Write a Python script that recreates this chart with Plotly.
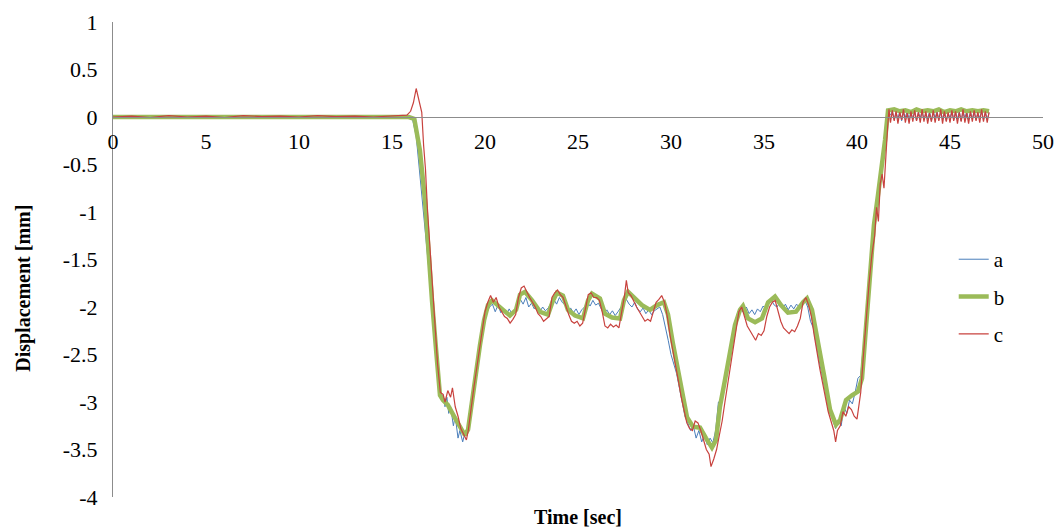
import plotly.graph_objects as go

# ---------------- data ----------------
# shared tail time base (oscillating end segment)
tail_t = [41.8, 41.9, 42.0, 42.1, 42.2, 42.3, 42.4, 42.5, 42.6, 42.7, 42.8, 42.9,
          43.0, 43.1, 43.2, 43.3, 43.4, 43.5, 43.6, 43.7, 43.8, 43.9, 44.0, 44.1,
          44.2, 44.3, 44.4, 44.5, 44.6, 44.7, 44.8, 44.9, 45.0, 45.1, 45.2, 45.3,
          45.4, 45.5, 45.6, 45.7, 45.8, 45.9, 46.0, 46.1, 46.2, 46.3, 46.4, 46.5,
          46.6, 46.7, 46.8, 46.9, 47.0, 47.1]

# series a (blue)
a_t = [0, 2, 4, 6, 8, 10, 12, 14, 15.9, 16.1, 16.3, 16.5, 16.7, 16.9, 17.0, 17.15,
       17.3, 17.45, 17.6, 17.75, 17.85, 17.95, 18.05, 18.15, 18.3, 18.4, 18.55, 18.65,
       18.8, 18.95, 19.05, 19.2, 19.35, 19.5, 19.65, 19.8, 19.95, 20.1, 20.25, 20.4,
       20.55, 20.7, 20.85, 21.0, 21.15, 21.3, 21.45, 21.6, 21.75, 21.9, 22.05, 22.2,
       22.35, 22.5, 22.65, 22.8, 22.95, 23.1, 23.25, 23.4, 23.55, 23.7, 23.85, 24.0,
       24.15, 24.3, 24.45, 24.6, 24.75, 24.9, 25.05, 25.2, 25.35, 25.5, 25.65, 25.8,
       25.95, 26.1, 26.25, 26.4, 26.55, 26.7, 26.85, 27.0, 27.15, 27.3, 27.45, 27.6,
       27.75, 27.9, 28.05, 28.2, 28.35, 28.5, 28.65, 28.8, 28.95, 29.1, 29.25, 29.4,
       29.55, 29.7, 29.85, 30.0, 30.15, 30.3, 30.45, 30.6, 30.75, 30.9, 31.05, 31.2,
       31.35, 31.5, 31.65, 31.8, 31.95, 32.1, 32.25, 32.4, 32.55, 32.7, 32.85, 33.0,
       33.15, 33.3, 33.45, 33.6, 33.75, 33.9, 34.05, 34.2, 34.35, 34.5, 34.65, 34.8,
       34.95, 35.1, 35.25, 35.4, 35.55, 35.7, 35.85, 36.0, 36.15, 36.3, 36.45, 36.6,
       36.75, 36.9, 37.05, 37.2, 37.35, 37.5, 37.65, 37.8, 37.95, 38.1, 38.25, 38.4,
       38.55, 38.7, 38.85, 39.0, 39.15, 39.3, 39.45, 39.6, 39.75, 39.9, 40.05, 40.2,
       40.3, 40.45, 40.6, 40.75, 40.9, 41.05, 41.2, 41.35, 41.5, 41.65]
a_v = [0.0, -0.005, 0.0, -0.005, 0.0, -0.005, 0.0, -0.005, 0.0, -0.02, -0.2, -0.6, -1.05, -1.45, -1.6, -1.95,
       -2.4, -2.75, -2.95, -2.93, -3.05, -2.95, -3.12, -3.05, -3.25, -3.15, -3.38, -3.3,
       -3.42, -3.3, -3.35, -3.05, -2.9, -2.75, -2.55, -2.35, -2.2, -2.05, -2.0, -1.97,
       -2.05, -1.98, -2.06, -2.02, -2.08, -2.02, -2.07, -2.03, -1.98, -1.92, -1.97, -1.9,
       -2.0, -1.96, -2.02, -1.98, -2.05, -2.0, -2.04, -2.01, -1.96, -1.92, -1.97, -1.9,
       -1.95, -1.98, -2.05, -2.01, -2.06, -2.02, -2.08, -2.03, -2.0, -1.95, -1.99, -1.93,
       -1.98, -1.96, -2.02, -2.07, -2.03, -2.08, -2.04, -2.09, -2.05, -2.0, -1.96, -1.92,
       -1.97, -2.0, -1.95, -2.02, -2.05, -2.01, -2.07, -2.03, -2.08, -2.04, -2.02, -2.0,
       -2.08, -2.2, -2.35, -2.5, -2.6, -2.7, -2.85, -3.0, -3.15, -3.22, -3.3, -3.25,
       -3.38, -3.3, -3.42, -3.35, -3.45, -3.38, -3.43, -3.3, -3.0, -2.98, -2.85, -2.65,
       -2.45, -2.3, -2.15, -2.05, -2.02, -2.06, -2.0, -2.07, -2.03, -2.08, -2.02, -2.05,
       -1.99, -2.02, -1.96, -1.93, -1.98, -2.0, -1.95, -2.02, -1.97, -2.03, -1.98, -2.02,
       -1.97, -2.0, -1.95, -1.93, -2.0, -2.15, -2.22, -2.4, -2.55, -2.7, -2.85, -3.0,
       -3.1, -3.2, -3.28, -3.2, -3.25, -3.05, -3.12, -2.98, -3.02, -2.9, -2.75, -2.72,
       -2.5, -2.3, -1.9, -1.55, -1.2, -0.95, -0.7, -0.5, -0.25, 0.05]
a_tail = [0.02, 0.06, -0.03, 0.05, -0.02, 0.06, -0.04, 0.04, 0.0, 0.06, -0.03, 0.05,
          -0.02, 0.06, -0.04, 0.05, -0.01, 0.06, -0.03, 0.04, -0.02, 0.06, -0.04, 0.05,
          -0.01, 0.06, -0.03, 0.05, -0.02, 0.06, -0.04, 0.04, -0.01, 0.06, -0.03, 0.05,
          -0.02, 0.06, -0.04, 0.05, -0.01, 0.06, -0.03, 0.05, -0.02, 0.06, -0.03, 0.04,
          -0.01, 0.06, -0.03, 0.05, -0.02, 0.04]

# series b (green, thick)
b_t = [0, 15.9, 16.2, 16.5, 16.77, 16.94, 17.15, 17.37, 17.58, 17.74, 18.0, 18.39,
       18.66, 18.92, 19.09, 19.3, 19.5, 19.73, 19.95, 20.16, 20.38, 20.65, 20.97, 21.34,
       21.67, 21.88, 22.15, 22.53, 22.96, 23.39, 23.66, 23.87, 24.19, 24.46, 24.84, 25.27,
       25.54, 25.75, 26.18, 26.45, 26.83, 27.26, 27.47, 27.69, 28.06, 28.44, 28.87, 29.25,
       29.62, 29.84, 30.1, 30.48, 30.86, 31.18, 31.56, 31.88, 32.2, 32.42, 32.63, 32.9,
       33.17, 33.44, 33.71, 33.87, 34.14, 34.52, 34.89, 35.22, 35.59, 35.91, 36.29, 36.72,
       37.1, 37.31, 37.58, 37.9, 38.23, 38.55, 38.87, 39.09, 39.41, 39.73, 40.05, 40.27,
       40.48, 40.7, 40.91, 41.13, 41.34, 41.51, 41.67, 42.0, 42.3, 42.6, 42.9, 43.2,
       43.5, 43.8, 44.1, 44.4, 44.7, 45.0, 45.3, 45.6, 45.9, 46.2, 46.5, 46.8, 47.1]
b_v = [0.0, 0.0, -0.02, -0.35, -0.87, -1.4, -1.93, -2.45, -2.93, -2.98, -3.03, -3.17,
       -3.27, -3.35, -3.29, -2.98, -2.72, -2.4, -2.14, -1.98, -1.93, -1.98, -2.03, -2.09,
       -2.03, -1.87, -1.84, -1.93, -2.05, -2.08, -1.93, -1.85, -1.88, -2.03, -2.09, -2.12,
       -1.93, -1.86, -1.91, -2.07, -2.11, -2.12, -1.93, -1.84, -1.91, -1.98, -2.03, -1.98,
       -1.95, -2.08, -2.38, -2.8, -3.16, -3.26, -3.27, -3.38, -3.48, -3.4, -3.05, -2.77,
       -2.5, -2.19, -2.03, -1.99, -2.12, -2.16, -2.12, -1.95, -1.89, -1.98, -2.06, -2.05,
       -1.95, -1.91, -2.03, -2.35, -2.72, -3.08, -3.24, -3.19, -2.98, -2.93, -2.89, -2.75,
       -2.24, -1.61, -1.14, -0.82, -0.51, -0.24, 0.07, 0.08, 0.06, 0.07, 0.05, 0.08,
       0.06, 0.07, 0.06, 0.08, 0.05, 0.07, 0.06, 0.08, 0.06, 0.07, 0.06, 0.07, 0.06]

# series c (red)
c_t = [0, 1, 2, 3, 4, 5, 6, 7, 8, 9, 10, 11, 12, 13, 14, 15, 15.8, 16.0, 16.15, 16.3,
       16.4, 16.5, 16.6, 16.7, 16.8, 16.9, 17.0, 17.1, 17.2, 17.3, 17.45, 17.6, 17.75,
       17.85, 18.0, 18.15, 18.25, 18.4, 18.55, 18.7, 18.85, 19.0, 19.1, 19.25, 19.4,
       19.55, 19.7, 19.85, 20.0, 20.15, 20.3, 20.45, 20.6, 20.75, 20.9, 21.05, 21.2,
       21.35, 21.5, 21.65, 21.8, 21.95, 22.1, 22.25, 22.4, 22.55, 22.7, 22.85, 23.0,
       23.15, 23.3, 23.45, 23.6, 23.75, 23.9, 24.05, 24.2, 24.35, 24.5, 24.65, 24.8,
       24.95, 25.1, 25.25, 25.4, 25.55, 25.7, 25.85, 26.0, 26.15, 26.3, 26.45, 26.6,
       26.75, 26.9, 27.05, 27.2, 27.35, 27.5, 27.6, 27.7, 27.85, 28.0, 28.15, 28.3,
       28.45, 28.6, 28.75, 28.9, 29.05, 29.2, 29.35, 29.5, 29.65, 29.8, 29.95, 30.1,
       30.25, 30.4, 30.55, 30.7, 30.85, 31.0, 31.15, 31.3, 31.45, 31.6, 31.75, 31.9,
       32.05, 32.15, 32.3, 32.45, 32.6, 32.75, 32.9, 33.05, 33.2, 33.35, 33.5, 33.65,
       33.8, 33.95, 34.1, 34.25, 34.4, 34.55, 34.7, 34.85, 35.0, 35.15, 35.3, 35.45,
       35.6, 35.75, 35.9, 36.05, 36.2, 36.35, 36.5, 36.65, 36.8, 36.95, 37.1, 37.25,
       37.4, 37.55, 37.7, 37.85, 38.0, 38.15, 38.3, 38.45, 38.6, 38.75, 38.85, 38.95,
       39.1, 39.25, 39.4, 39.55, 39.7, 39.85, 40.0, 40.1, 40.2, 40.35, 40.5, 40.65,
       40.8, 40.95, 41.05, 41.15, 41.25, 41.35, 41.45, 41.55, 41.65, 41.72]
c_v = [0.0, 0.01, -0.005, 0.015, 0.0, 0.01, -0.005, 0.015, 0.005, 0.01, 0.0, 0.015,
       0.005, 0.01, 0.0, 0.015, 0.02, 0.06, 0.15, 0.3, 0.22, 0.12, 0.05, -0.3, -0.55,
       -0.95, -1.25, -1.55, -1.9, -2.2, -2.6, -2.9, -2.92, -3.0, -2.88, -2.95, -2.85,
       -3.05, -3.15, -3.28, -3.35, -3.4, -3.3, -3.05, -2.85, -2.65, -2.45, -2.25, -2.05,
       -1.95, -1.88, -1.95, -1.9, -2.0, -2.05, -2.1, -2.12, -2.17, -2.13, -2.08, -1.9,
       -1.8, -1.78, -1.85, -1.9, -1.95, -2.0, -2.07, -2.1, -2.15, -2.12, -2.1, -1.9,
       -1.85, -1.82, -1.87, -1.9, -2.0, -2.08, -2.15, -2.17, -2.15, -2.2, -2.17, -2.0,
       -1.87, -1.85, -1.9, -1.9, -1.93, -2.05, -2.2, -2.22, -2.18, -2.21, -2.19, -2.22,
       -2.05, -1.88, -1.72, -1.85, -1.88, -1.95, -2.0, -2.05, -2.1, -2.15, -2.13, -2.15,
       -2.05, -1.95, -1.92, -1.88, -1.95, -2.1, -2.3, -2.45, -2.62, -2.78, -2.95, -3.1,
       -3.22, -3.28, -3.3, -3.2, -3.22, -3.3, -3.4, -3.5, -3.55, -3.68, -3.6, -3.5,
       -3.35, -3.2, -3.0, -2.8, -2.6, -2.4, -2.2, -2.05, -2.0, -2.1, -2.2, -2.25,
       -2.3, -2.35, -2.28, -2.3, -2.25, -2.1, -2.0, -1.95, -1.93, -2.05, -2.15, -2.22,
       -2.25, -2.28, -2.24, -2.26, -2.2, -2.12, -1.95, -1.9, -1.98, -2.1, -2.3, -2.5,
       -2.65, -2.8, -2.95, -3.1, -3.2, -3.3, -3.42, -3.3, -3.25, -3.1, -3.15, -3.05,
       -3.08, -3.15, -3.18, -3.05, -2.9, -2.5, -2.1, -1.75, -1.45, -1.25, -0.95, -1.1,
       -0.7, -0.6, -0.75, -0.35, -0.1, 0.08]
c_tail = [-0.06, 0.07, -0.04, 0.06, -0.07, 0.05, -0.03, 0.08, -0.06, 0.04, -0.07, 0.06,
          -0.05, 0.07, -0.04, 0.05, -0.06, 0.08, -0.05, 0.06, -0.07, 0.04, -0.05, 0.07,
          -0.06, 0.05, -0.04, 0.08, -0.07, 0.06, -0.05, 0.05, -0.06, 0.07, -0.04, 0.06,
          -0.07, 0.05, -0.05, 0.08, -0.06, 0.04, -0.07, 0.06, -0.05, 0.07, -0.04, 0.05,
          -0.06, 0.08, -0.05, 0.06, -0.06, 0.05]

y_tickvals = [1, 0.5, 0, -0.5, -1, -1.5, -2, -2.5, -3, -3.5, -4]
y_ticktext = ["1", "0.5", "0", "-0.5", "-1", "-1.5", "-2", "-2.5", "-3", "-3.5", "-4"]
x_tickvals = [0, 5, 10, 15, 20, 25, 30, 35, 40, 45, 50]
x_ticktext = ["0", "5", "10", "15", "20", "25", "30", "35", "40", "45", "50"]

# ---------------- figure ----------------
SERIF = "Liberation Serif, Times New Roman, serif"

fig = go.Figure()
fig.add_trace(go.Scatter(x=a_t + tail_t, y=a_v + a_tail, mode="lines", name="a",
                         legendgroup="a", line=dict(color="#4a7ebb", width=1)))
fig.add_trace(go.Scatter(x=b_t, y=b_v, mode="lines", name="b",
                         legendgroup="b", line=dict(color="#9bbb59", width=4.5)))
fig.add_trace(go.Scatter(x=c_t + tail_t, y=c_v + c_tail, mode="lines", name="c",
                         legendgroup="c", line=dict(color="#c8423e", width=1.2)))

# page body has an 8px margin, so the figure is sized 8px smaller
fig.update_layout(
    width=1056, height=520,
    margin=dict(l=105, r=21, t=14, b=31, autoexpand=False),
    paper_bgcolor="white", plot_bgcolor="white",
    font=dict(family=SERIF, size=22, color="black"),
    showlegend=True,
    legend=dict(x=0.904, y=0.543, xanchor="left", yanchor="top",
                bgcolor="rgba(0,0,0,0)", tracegroupgap=7,
                font=dict(family=SERIF, size=21, color="black")),
    xaxis=dict(range=[0, 50], anchor="free", position=0.8, automargin=False,
               showline=True, linecolor="#8c8c8c", linewidth=1,
               showgrid=False, zeroline=False, ticks="",
               tickvals=x_tickvals, ticktext=x_ticktext,
               ticklabelstandoff=5),
    yaxis=dict(range=[-4, 1], automargin=False,
               showline=True, linecolor="#8c8c8c", linewidth=1,
               showgrid=False, zeroline=False, ticks="",
               tickvals=y_tickvals, ticktext=y_ticktext,
               ticklabelstandoff=10),
    annotations=[
        dict(text="<b>Time [sec]</b>", xref="paper", yref="paper", x=0.5, y=-0.042,
             xanchor="center", yanchor="middle", showarrow=False,
             font=dict(family=SERIF, size=20, color="black")),
        dict(text="<b>Displacement [mm]</b>", xref="paper", yref="paper",
             x=-0.097, y=0.44, xanchor="center", yanchor="middle", textangle=-90,
             showarrow=False, font=dict(family=SERIF, size=20, color="black")),
    ],
)

fig.write_html("out.html")
